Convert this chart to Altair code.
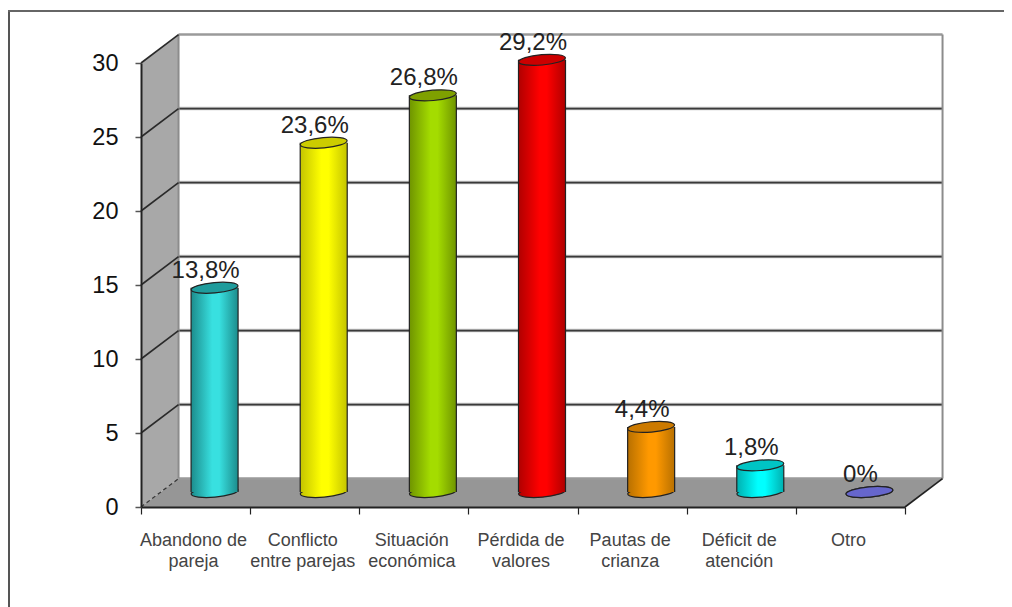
import altair as alt
import pandas as pd

categories = ["Abandono de\npareja", "Conflicto\nentre parejas", "Situación\neconómica",
              "Pérdida de\nvalores", "Pautas de\ncrianza", "Déficit de\natención", "Otro"]
values = [13.8, 23.6, 26.8, 29.2, 4.4, 1.8, 0]
labels = ["13,8%", "23,6%", "26,8%", "29,2%", "4,4%", "1,8%", "0%"]
edge = ["#1c8c8c", "#c4c400", "#6f9400", "#b00000", "#b87000", "#00b0b0", "#6666cc"]
mid = ["#38e0e0", "#ffff00", "#a4dc00", "#ff0000", "#ff9900", "#00ffff", "#6666cc"]
top = ["#1f9c9c", "#cccc00", "#7fa000", "#cc0000", "#cc7a00", "#00c4c4", "#6666cc"]
grid_values = [5, 10, 15, 20, 25]
DX, DY = 0.344, 1.92   # depth of the 3D box in axis units
W, H = 764, 444
XS = alt.Scale(domain=[0, 7], nice=False, zero=False, padding=0)
YS = alt.Scale(domain=[0, 30], nice=False, padding=0)
XA = alt.Axis(values=list(range(8)), labels=False, title=None, grid=False, zindex=1,
              domainColor="#222", domainWidth=2, tickColor="#222", tickSize=7, tickWidth=1.2)
YA = alt.Axis(values=[0, 5, 10, 15, 20, 25, 30], title=None, grid=False, zindex=1,
              domainColor="#222", domainWidth=2, tickColor="#555", tickSize=6, tickWidth=1.5,
              labelFont="Liberation Sans", labelFontSize=23.5, labelColor="#111", labelPadding=17)
X = lambda f: alt.X(f, type="quantitative", scale=XS, axis=XA)
Y = lambda f: alt.Y(f, type="quantitative", scale=YS, axis=YA)
ELL = "M-1,0A1,0.22 0 1,1 1,0A1,0.22 0 1,1 -1,0Z"
FONT = "Liberation Sans"


def area(rows, color):
    d = pd.DataFrame(rows, columns=["x", "y", "y2"])
    return alt.Chart(d).mark_area(color=color, interpolate="linear", orient="vertical").encode(
        x=X("x"), y=Y("y"), y2="y2")


def seg(rows, color, w, **kw):
    d = pd.DataFrame(rows, columns=["x", "x2", "y", "y2"])
    return alt.Chart(d).mark_rule(color=color, strokeWidth=w, **kw).encode(
        x=X("x"), x2="x2", y=Y("y"), y2="y2")


layers = []
# frame: open on the right and at the bottom
one = alt.Chart(pd.DataFrame({"a": [0]}))
layers.append(one.mark_rule(color="#555", strokeWidth=2).encode(
    x=alt.value(-132), y=alt.value(-53), y2=alt.value(560)))
layers.append(one.mark_rule(color="#666", strokeWidth=2).encode(
    x=alt.value(-133), x2=alt.value(880), y=alt.value(-52)))
# walls
layers.append(area([[0, 0, 30], [DX, DY, 30 + DY]], "#a8a8a8"))
layers.append(area([[0, 0, 0], [DX, 0, DY], [7, 0, DY], [7 + DX, DY, DY]], "#969696"))
# back grid
layers.append(seg([[DX, 7 + DX, v + DY, v + DY] for v in grid_values], "#c4c4c4", 3.5))
layers.append(seg([[DX, 7 + DX, v + DY, v + DY] for v in grid_values], "#3a3a3a", 1.8))
layers.append(seg([[DX, 7 + DX, 30 + DY, 30 + DY], [DX, 7 + DX, DY, DY]], "#9a9a9a", 2.5))
layers.append(seg([[DX, DX, DY, 30 + DY], [7 + DX, 7 + DX, DY, 30 + DY]], "#8c8c8c", 2))
# side grid
layers.append(seg([[0, DX, v, v + DY] for v in grid_values + [30]], "#2a2a2a", 1.6))
layers.append(seg([[0, DX, 0, DY]], "#333333", 1.2, strokeDash=[4, 3]))
layers.append(seg([[7, 7 + DX, 0, DY]], "#222222", 1.6))

# cylinders
for i, (v, lab) in enumerate(zip(values, labels)):
    d = pd.DataFrame({"c": [i + 0.5], "v": [v], "z": [0]})
    g = alt.Gradient(gradient="linear", x1=0, x2=1, y1=0, y2=0, stops=[
        alt.GradientStop(offset=0, color=edge[i]),
        alt.GradientStop(offset=0.45, color=mid[i]),
        alt.GradientStop(offset=0.6, color=mid[i]),
        alt.GradientStop(offset=1, color=edge[i])])
    base = alt.Chart(d)
    layers.append(base.mark_point(shape=ELL, size=47 ** 2, filled=True, fill=g, stroke="#222", strokeWidth=1.2,
                                  opacity=1, xOffset=19, yOffset=-15, angle=355).encode(x=X("c"), y=Y("z")))
    if v > 0:
        layers.append(base.mark_bar(fill=g, size=47, orient="vertical", xOffset=19, yOffset=-15, y2Offset=-15).encode(
            x=X("c"), y=Y("v"), y2="z"))
        for s in (-23.5, 23.5):
            layers.append(base.mark_rule(color="#222", strokeWidth=1.2, xOffset=19 + s, yOffset=-15, y2Offset=-15).encode(
                x=X("c"), y=Y("v"), y2="z"))
    layers.append(base.mark_point(shape=ELL, size=47 ** 2, filled=True, fill=top[i], stroke="#222", strokeWidth=1.2,
                                  opacity=1, xOffset=19, yOffset=-15, angle=355).encode(x=X("c"), y=Y("v")))

df = pd.DataFrame({"c": [i + 0.5 for i in range(7)], "v": values, "lab": labels, "cat": categories})
layers.append(alt.Chart(df).mark_text(font=FONT, fontSize=24, color="#222", baseline="alphabetic", align="center",
                                      xOffset=10, yOffset=-25).encode(x=X("c"), y=Y("v"), text="lab"))
df0 = df.assign(z=0)
layers.append(alt.Chart(df0).mark_text(font=FONT, fontSize=18, color="#444", baseline="alphabetic", align="center",
                                       lineBreak="\n", lineHeight=21, xOffset=-2, yOffset=39).encode(
    x=X("c"), y=Y("z"), text="cat"))

chart = alt.layer(*layers).properties(
    width=W, height=H, padding={"left": 133, "top": 55, "right": 99, "bottom": 100},
    autosize=alt.AutoSizeParams(type="none"), background="white"
).configure_view(stroke=None)
chart.save("out.html", embed_options={"renderer": "svg", "actions": False})
